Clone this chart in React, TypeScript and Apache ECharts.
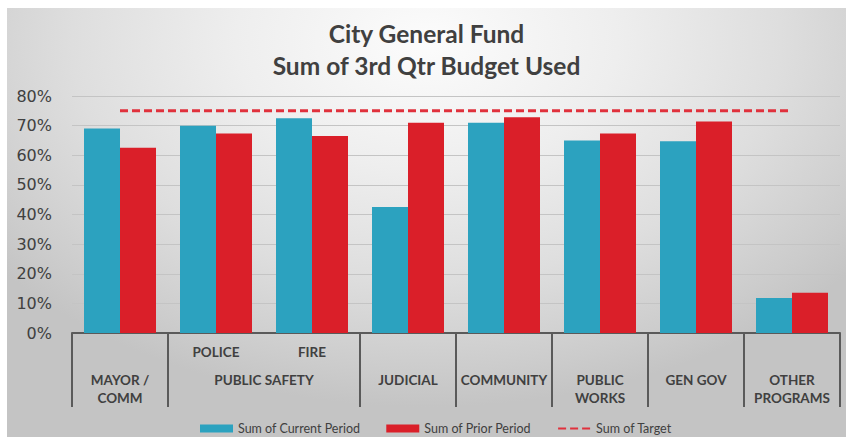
import React, { useEffect, useRef } from "react";
import * as echarts from "echarts";

const categories = ["MAYOR / COMM", "POLICE", "FIRE", "JUDICIAL", "COMMUNITY", "PUBLIC WORKS", "GEN GOV", "OTHER PROGRAMS"];
const subLabels = ["", "POLICE", "FIRE", "", "", "", "", ""];
const groupLabels = ["MAYOR /\nCOMM", "PUBLIC SAFETY", "JUDICIAL", "COMMUNITY", "PUBLIC\nWORKS", "GEN GOV", "OTHER\nPROGRAMS"];
const groupSpans = [1, 2, 1, 1, 1, 1, 1];
const currentPeriod = [69, 70, 72.5, 42.5, 71, 65, 64.7, 11.8];
const priorPeriod = [62.5, 67.3, 66.5, 71, 72.8, 67.3, 71.4, 13.6];
const target = [75, 75, 75, 75, 75, 75, 75, 75];
const yTicks = [0, 10, 20, 30, 40, 50, 60, 70, 80];

const titleText = "City General Fund\nSum of 3rd Qtr Budget Used";
const seriesNames = ["Sum of Current Period", "Sum of Prior Period", "Sum of Target"];

export default function App() {
  const ref = useRef<HTMLDivElement>(null);
  useEffect(() => {
    if (!ref.current) return;
    const chart = echarts.init(ref.current, null, { renderer: "svg" });

    const bounds: number[] = [0];
    const centres: number[] = [];
    let acc = 0;
    groupSpans.forEach((s) => {
      centres.push(acc + s / 2);
      acc += s;
      bounds.push(acc);
    });
    const labelFor = (v: number) => {
      const i = centres.findIndex((c) => Math.abs(c - v) < 1e-6);
      return i >= 0 ? groupLabels[i] : "";
    };

    const textColor = "#404040";
    const lineColor = "#5a5a5a";

    chart.setOption({
      animation: false,
      backgroundColor: "transparent",
      title: {
        text: titleText,
        left: "center",
        top: 9,
        padding: [0, 0, 0, 9],
        textStyle: {
          fontFamily: "Lato",
          fontWeight: "bold",
          fontSize: 24.5,
          lineHeight: 32,
          color: textColor,
        },
      },
      legend: {
        left: 188,
        top: 409,
        itemWidth: 33,
        itemHeight: 8,
        itemGap: 26,
        textStyle: { fontFamily: "Lato", fontSize: 12.5, color: textColor },
        data: [
          { name: seriesNames[0], icon: "rect" },
          { name: seriesNames[1], icon: "rect" },
          { name: seriesNames[2], itemStyle: { opacity: 0 } },
        ],
      },
      grid: { left: 65, right: 6, top: 88, bottom: 104, containLabel: false },
      xAxis: [
        {
          type: "category",
          data: categories,
          boundaryGap: true,
          axisLine: { show: false },
          axisTick: { show: false },
          splitLine: { show: false },
          axisLabel: {
            interval: 0,
            margin: 11,
            formatter: (_v: string, i: number) => subLabels[i],
            fontFamily: "Lato",
            fontWeight: "bold",
            fontSize: 13.5,
            lineHeight: 16,
            color: textColor,
          },
        },
        {
          type: "value",
          position: "bottom",
          min: 0,
          max: categories.length,
          axisLine: { show: true, onZero: false, lineStyle: { color: lineColor, width: 2 } },
          axisTick: {
            show: true,
            inside: false,
            length: 74,
            customValues: bounds,
            lineStyle: { color: lineColor, width: 2 },
          },
          splitLine: { show: false },
          axisLabel: {
            show: true,
            customValues: centres,
            margin: 38,
            formatter: (v: number) => labelFor(v),
            fontFamily: "Lato",
            fontWeight: "bold",
            fontSize: 13.5,
            lineHeight: 18,
            color: textColor,
            align: "center",
          },
        },
      ],
      yAxis: {
        type: "value",
        min: yTicks[0],
        max: yTicks[yTicks.length - 1],
        interval: 10,
        axisLine: { show: false },
        axisTick: { show: false },
        axisLabel: {
          formatter: "{value}%",
          margin: 20,
          fontFamily: "DejaVu Sans",
          fontSize: 16,
          color: textColor,
        },
        splitLine: { show: true, lineStyle: { color: "#c4c4c4", width: 1 } },
      },
      series: [
        {
          name: seriesNames[0],
          type: "bar",
          xAxisIndex: 0,
          data: currentPeriod,
          barGap: "0%",
          barCategoryGap: "25%",
          itemStyle: { color: "#2ca2bf" },
        },
        {
          name: seriesNames[1],
          type: "bar",
          xAxisIndex: 0,
          data: priorPeriod,
          barGap: "0%",
          barCategoryGap: "25%",
          itemStyle: { color: "#da1f29" },
        },
        {
          name: seriesNames[2],
          type: "line",
          xAxisIndex: 0,
          data: target,
          symbol: "none",
          lineStyle: { color: "#e0313c", width: 3, type: [8, 4] },
          itemStyle: { color: "#e0313c" },
          z: 5,
        },
      ],
    });
    return () => chart.dispose();
  }, []);

  return (
    <div
      ref={ref}
      style={{
        position: "absolute",
        left: 7,
        top: 8,
        width: 839,
        height: 429,
        background:
          "radial-gradient(ellipse 65% 85% at 50% 8%, #fcfcfc 0%, #eeeeee 35%, #dedede 65%, #cccccc 90%, #c4c4c4 100%)",
      }}
    />
  );
}
